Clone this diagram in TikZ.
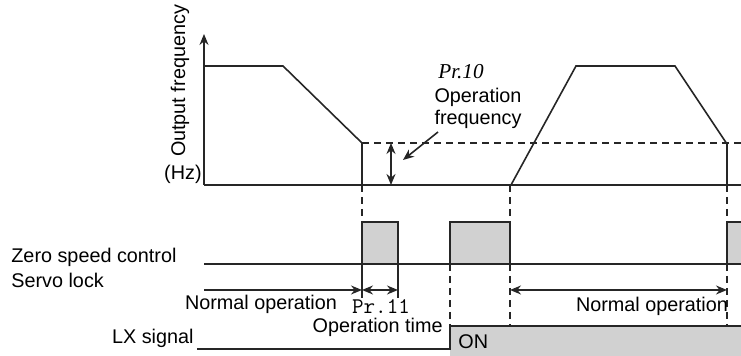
\documentclass[tikz,border=0pt]{standalone}
\usepackage{fontspec}
\setmainfont{Liberation Sans}
\newfontfamily\serifit{Liberation Serif}
\usetikzlibrary{arrows.meta}
\begin{document}
\begin{tikzpicture}[x=0.5pt,y=-0.5pt,
  ln/.style={line width=0.8pt,draw=black!85},
  dsh/.style={line width=0.6pt,draw=black!85,dash pattern=on 3.5pt off 2.5pt},
  box/.style={line width=0.8pt,draw=black!85,fill=black!18},
  arr/.style={ln,-{Stealth[length=5.5pt,width=4.5pt]}},
  darr/.style={ln,{Stealth[length=5.5pt,width=4.5pt]}-{Stealth[length=5.5pt,width=4.5pt]}},
  lbl/.style={inner sep=0pt,font=\fontsize{9.9}{11}\selectfont}]
\useasboundingbox (0,0) rectangle (741,356);
% coordinates
\coordinate (o) at (204,185);
\coordinate (ytop) at (204,34);
\coordinate (xend) at (741,185);
% frequency curve
\draw[ln] (204,66) -- (283,66) -- (362,143) -- (362,185);
\draw[ln] (511,185) -- (576,66) -- (675,66) -- (727,144) -- (727,185);
\draw[arr] (o) -- (ytop);
\draw[ln] (o) -- (xend);
\coordinate (d1) at (362,143);
\coordinate (d2) at (741,143);
\draw[dsh] (d1) -- (d2);
\coordinate (fa) at (391,143);
\coordinate (fb) at (391,185);
\draw[darr] (fa) -- (fb);
\coordinate (pa) at (438,132);
\coordinate (pb) at (403,160);
\draw[arr] (pa) -- (pb);
% zero speed signal
\draw[box] (362,264) rectangle (398,222);
\draw[box] (450,264) rectangle (510,222);
\fill[black!18] (727,264) rectangle (741,222);
\draw[ln] (727,264) -- (727,222) -- (741,222);
\coordinate (zs) at (204,264);
\coordinate (ze) at (741,264);
\draw[ln] (zs) -- (ze);
% vertical dashed / solid markers
\draw[dsh] (362,185) -- (362,222);
\draw[dsh] (510,185) -- (510,222);
\draw[dsh] (727,185) -- (727,222);
\draw[dsh] (450,264) -- (450,326);
\draw[dsh] (510,264) -- (510,326);
\draw[dsh] (727,264) -- (727,326);
\draw[ln] (362,264) -- (362,298);
\draw[ln] (398,264) -- (398,298);
% time arrows
\coordinate (n1) at (204,290);
\coordinate (n2) at (362,290);
\coordinate (n3) at (398,290);
\coordinate (n4) at (510,290);
\coordinate (n5) at (727,290);
\draw[arr] (n1) -- (n2);
\draw[darr] (n2) -- (n3);
\draw[darr] (n4) -- (n5);
% LX signal
\fill[black!18] (450,326) rectangle (741,356);
\draw[ln] (197,349) -- (450,349) -- (450,326) -- (741,326);
% labels
\node[lbl,rotate=90] (yl) at (180,81) {Output frequency};
\node[lbl,anchor=east] (hz) at (202,174) {(Hz)};
\node[inner sep=0pt,font=\serifit\itshape\fontsize{10.6}{12}\selectfont] (pr10) at (461,72) {Pr.10};
\node[lbl,align=center] (of) at (478,108) {Operation\\frequency};
\node[lbl,anchor=west] (zsc) at (11,257) {Zero speed control};
\node[lbl,anchor=west] (sl) at (11,280) {Servo lock};
\node[lbl] (no1) at (261,304) {Normal operation};
\node[inner sep=0pt,font=\ttfamily\fontsize{11.2}{12}\selectfont] (pr11) at (381,307) {Pr.11};
\node[lbl,anchor=east] (ot) at (443,327) {Operation time};
\node[lbl] (no2) at (652,306) {Normal operation};
\node[lbl,anchor=east] (lx) at (194,338) {LX signal};
\node[lbl,anchor=west] (on) at (458,342) {ON};
\end{tikzpicture}
\end{document}
